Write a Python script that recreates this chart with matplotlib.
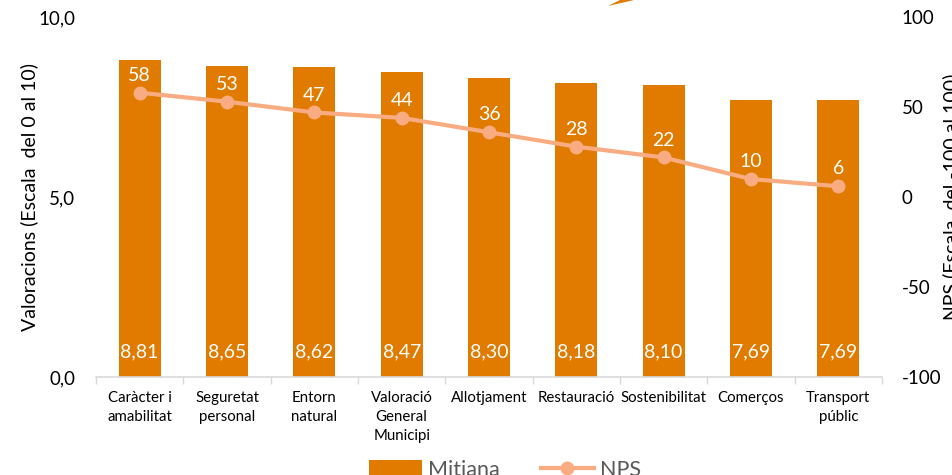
import matplotlib.pyplot as plt
import matplotlib as mpl
from matplotlib.patches import Polygon
from matplotlib.lines import Line2D
from matplotlib.patches import Patch
import numpy as np

mpl.rcParams["font.family"] = ["Lato", "DejaVu Sans"]
mpl.rcParams["axes.unicode_minus"] = False

categories = ["Caràcter i\namabilitat", "Seguretat\npersonal", "Entorn\nnatural",
              "Valoració\nGeneral\nMunicipi", "Allotjament", "Restauració",
              "Sostenibilitat", "Comerços", "Transport\npúblic"]
mitjana = [8.81, 8.65, 8.62, 8.47, 8.30, 8.18, 8.10, 7.69, 7.69]
nps = [58, 53, 47, 44, 36, 28, 22, 10, 6]

BAR = "#E07B00"
LINE = "#F9AC82"
GRID = "#D9D9D9"

fig = plt.figure(figsize=(9.53, 4.75), dpi=100)
ax = fig.add_axes([0.1007, 0.2063, 0.8248, 0.7577])
ax2 = ax.twinx()

x = np.arange(len(categories))
ax.bar(x, mitjana, width=0.48, color=BAR, zorder=2)
ax.set_xlim(-0.5, len(categories) - 0.5)
ax.set_ylim(0, 10)
ax.set_yticks([0, 5, 10])
ax.set_yticklabels(["0,0", "5,0", "10,0"])
ax.set_xticks(x)
ax.set_xticklabels(categories, fontsize=10.8, linespacing=1.45)
ax.set_xticks(np.arange(-0.5, len(categories)), minor=True)
ax.tick_params(axis="x", which="major", length=0, pad=10)
ax.tick_params(axis="x", which="minor", length=5, color=GRID, width=1)
ax.tick_params(axis="y", length=0, pad=15, labelsize=13.5)
ax.set_ylabel("Valoracions (Escala  del 0 al 10)", fontsize=14, labelpad=0)

for s in ["top", "left", "right"]:
    ax.spines[s].set_visible(False)
    ax2.spines[s].set_visible(False)
ax.spines["bottom"].set_color(GRID)
ax.spines["bottom"].set_linewidth(1.2)
ax2.spines["bottom"].set_visible(False)

for xi, v in zip(x, mitjana):
    ax.annotate(f"{v:.2f}".replace(".", ","), (xi, 0), xytext=(0, 18),
                textcoords="offset points", ha="center", va="center",
                color="white", fontsize=14)

ax2.plot(x, nps, color=LINE, lw=3, marker="o", markersize=9, zorder=3)
ax2.set_ylim(-100, 100)
ax2.set_yticks([-100, -50, 0, 50, 100])
ax2.tick_params(axis="y", length=0, pad=14, labelsize=13.5)
ax2.set_ylabel("NPS (Escala  del -100 al 100)", fontsize=14, labelpad=1)

for xi, v in zip(x, nps):
    ax2.annotate(f"{v}", (xi, v), xytext=(0, 12.5),
                 textcoords="offset points", ha="center", va="center",
                 color="white", fontsize=14)

# small clipped shape at the top edge
fig.patches.append(Polygon([(608 / 953, 1 - 6 / 475), (620 / 953, 1.0), (634 / 953, 1.0)],
                           closed=True, transform=fig.transFigure,
                           facecolor=BAR, edgecolor="none"))

handles = [Patch(facecolor=BAR), Line2D([], [], color=LINE, lw=3, marker="o", markersize=9)]
fig.legend(handles, ["Mitjana", "NPS"], loc="upper center", bbox_to_anchor=(0.53, 0.032),
           ncol=2, frameon=False, fontsize=15.5, labelcolor="#595959",
           handlelength=2.45, handleheight=0.85, columnspacing=1.9, handletextpad=0.3,
           borderaxespad=0, borderpad=0)

fig.savefig("out.png", dpi=100)
